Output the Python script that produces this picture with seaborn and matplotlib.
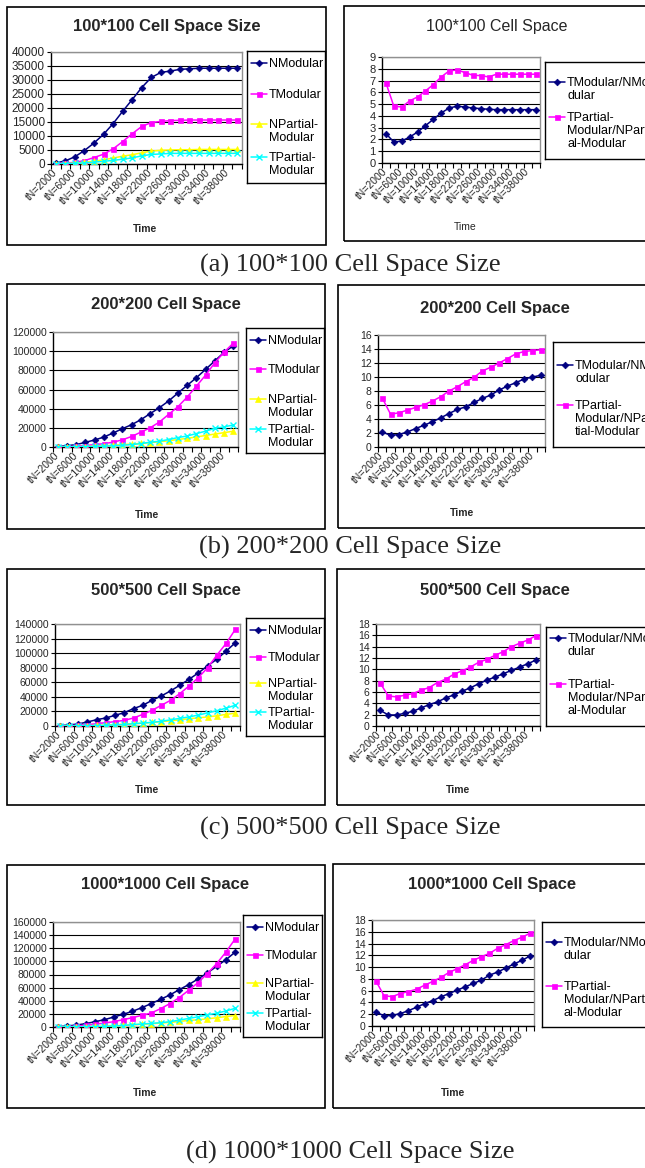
import numpy as np
import pandas as pd
import matplotlib
matplotlib.use("Agg")
import matplotlib.pyplot as plt
import seaborn as sns
from matplotlib.patches import Rectangle
from matplotlib.ticker import StrMethodFormatter

# ---------------- data ----------------
times = [2000, 4000, 6000, 8000, 10000, 12000, 14000, 16000, 18000, 20000,
         22000, 24000, 26000, 28000, 30000, 32000, 34000, 36000, 38000, 40000]
categories = ["tN=" + str(t) for t in times]
tick_labels = categories[::2]

# (a) 100*100
a_nmodular = [400, 1100, 2600, 4800, 7500, 10600, 14400, 18800, 23000, 27300,
              30900, 32700, 33200, 33800, 34000, 34200, 34200, 34200, 34200, 34200]
a_tmodular = [150, 300, 600, 1200, 2300, 3500, 5400, 8000, 10800, 13400,
              14800, 15200, 15500, 15600, 15700, 15700, 15700, 15700, 15700, 15700]
a_npartial = [60, 150, 320, 600, 1000, 1500, 2100, 2800, 3300, 4000,
              4600, 4900, 5000, 5100, 5100, 5200, 5200, 5200, 5200, 5200]
a_tpartial = [40, 120, 250, 400, 650, 950, 1300, 1700, 2200, 2900,
              3400, 3600, 3800, 3800, 3800, 3800, 3800, 3800, 3800, 3800]
a_ratio_mod = [2.49, 1.78, 1.87, 2.2, 2.63, 3.17, 3.71, 4.25, 4.67, 4.82,
               4.76, 4.67, 4.62, 4.56, 4.53, 4.53, 4.53, 4.53, 4.53, 4.53]
a_ratio_part = [6.8, 4.82, 4.76, 5.27, 5.61, 6.12, 6.66, 7.31, 7.82, 7.9,
                7.68, 7.45, 7.42, 7.31, 7.54, 7.54, 7.54, 7.54, 7.54, 7.54]

# (b) 200*200
b_nmodular = [300, 1400, 2400, 4900, 7300, 10400, 14600, 19100, 23300, 28500,
              34800, 41000, 48000, 56300, 64300, 72300, 81000, 90000, 98800, 105700]
b_tmodular = [150, 400, 800, 1500, 2500, 3500, 5000, 7500, 11000, 15500,
              20000, 26000, 34000, 42000, 52000, 63500, 75000, 88000, 99000, 108500]
b_npartial = [60, 150, 300, 500, 800, 1200, 1800, 2500, 3000, 3800,
              4500, 5500, 6500, 7800, 9000, 10500, 12000, 13500, 15000, 16500]
b_tpartial = [40, 100, 200, 400, 600, 900, 1300, 1800, 2500, 3500,
              5000, 6000, 7800, 9800, 11500, 14000, 16500, 19500, 21000, 23000]
b_ratio_mod = [2.15, 1.67, 1.77, 2.15, 2.63, 3.1, 3.6, 4.16, 4.78, 5.36,
               5.74, 6.36, 6.94, 7.42, 8.13, 8.7, 9.19, 9.71, 10.0, 10.24]
b_ratio_part = [7.03, 4.69, 4.88, 5.26, 5.65, 6.03, 6.55, 7.18, 7.99, 8.61,
                9.33, 9.95, 10.86, 11.39, 12.0, 12.63, 13.3, 13.64, 13.78, 13.88]

# (c) 500*500
c_nmodular = [460, 1400, 2800, 5500, 8700, 11000, 14700, 18400, 23900, 28500,
              35300, 41300, 48200, 56000, 64200, 72900, 82600, 91700, 102800, 114300]
c_tmodular = [100, 500, 900, 1800, 3200, 4600, 6000, 7800, 11000, 16000,
              21600, 28400, 35300, 44500, 55000, 66500, 79900, 97300, 113400, 132700]
c_npartial = [60, 150, 300, 500, 800, 1200, 1800, 2500, 3200, 4000,
              5000, 6000, 7200, 8500, 10000, 11200, 12500, 14000, 16000, 17500]
c_tpartial = [40, 100, 200, 400, 600, 900, 1500, 2200, 3000, 4000,
              5000, 6500, 8500, 10500, 12500, 15000, 18000, 21000, 24500, 28500]
c_ratio_mod = [2.77, 1.95, 1.95, 2.24, 2.6, 3.19, 3.78, 4.25, 4.96, 5.49,
               6.14, 6.73, 7.44, 8.09, 8.62, 9.21, 9.8, 10.39, 10.98, 11.63]
c_ratio_part = [7.6, 5.3, 5.14, 5.43, 5.73, 6.32, 6.79, 7.67, 8.26, 9.15,
                9.74, 10.39, 11.22, 11.75, 12.46, 13.1, 13.99, 14.58, 15.17, 15.94]

# (d) 1000*1000
d_nmodular = [500, 1500, 3000, 5100, 8100, 11200, 15200, 19300, 23900, 29500,
              35600, 42200, 48800, 56900, 64500, 73100, 82300, 92400, 102600, 114300]
d_tmodular = [100, 500, 1500, 2500, 4100, 6100, 8100, 11200, 14200, 17800,
              21300, 27900, 35600, 44700, 55900, 67600, 81300, 96500, 114300, 134600]
d_npartial = [60, 150, 300, 500, 800, 1200, 1800, 2500, 3300, 4200,
              5000, 6000, 7000, 8500, 10000, 11000, 12500, 14000, 16000, 17500]
d_tpartial = [40, 100, 200, 400, 600, 900, 1500, 2200, 3500, 4500,
              5500, 6500, 8000, 10500, 13000, 15500, 18500, 21000, 24500, 28500]
d_ratio_mod = [2.39, 1.7, 1.82, 2.1, 2.61, 3.18, 3.81, 4.32, 4.94, 5.51,
               6.08, 6.65, 7.22, 7.78, 8.64, 9.15, 9.83, 10.51, 11.14, 11.88]
d_ratio_part = [7.61, 5.11, 5.0, 5.51, 5.85, 6.25, 6.93, 7.56, 8.24, 9.09,
                9.72, 10.4, 11.14, 11.76, 12.33, 13.18, 13.81, 14.49, 15.06, 15.74]

captions = ["(a) 100*100 Cell Space Size", "(b) 200*200 Cell Space Size",
            "(c) 500*500 Cell Space Size", "(d) 1000*1000 Cell Space Size"]

# ---------------- style ----------------
sns.set_theme(style="white")
plt.rcParams['font.family'] = ['Liberation Sans', 'DejaVu Sans']

W, H = 645, 1168
fig = plt.figure(figsize=(W / 100, H / 100), dpi=100)
fig.patch.set_facecolor('white')


def frect(x0, y0, x1, y1):
    return [x0 / W, 1 - y1 / H, (x1 - x0) / W, (y1 - y0) / H]


NAVY, MAGENTA, YELLOW, CYAN = '#000080', '#FF00FF', '#FFFF00', '#00FFFF'
STY = {
    'NModular': (NAVY, 'D', 3.4),
    'TModular': (MAGENTA, 's', 3.6),
    'NPartial': (YELLOW, '^', 4.2),
    'TPartial': (CYAN, 'x', 4.2),
}


def panel_box(box):
    x0, y0, x1, y1 = box
    fig.add_artist(Rectangle((x0 / W, 1 - y1 / H), (x1 - x0) / W, (y1 - y0) / H,
                             transform=fig.transFigure, fill=False,
                             ec='black', lw=1.2, zorder=0))


def draw_chart(plot, series, ymax, ystep, ytick_fs, xtick_fs):
    ax = fig.add_axes(frect(*plot))
    pos = np.arange(len(categories))
    df = pd.DataFrame({"pos": pos, "Time": categories})
    for key, vals in series:
        color, marker, ms = STY[key]
        df[key] = vals
        sns.lineplot(data=df, x="pos", y=key, ax=ax, color=color, marker=marker,
                     markersize=ms, markeredgecolor=color,
                     markeredgewidth=1.0 if marker == 'x' else 0.5,
                     linewidth=1.1, legend=False, zorder=3)
    ax.set_xlim(-0.5, len(categories) - 0.5)
    ax.set_ylim(0, ymax)
    ax.set_yticks(np.arange(0, ymax + ystep / 2, ystep))
    ax.yaxis.set_major_formatter(StrMethodFormatter('{x:.0f}'))
    ax.set_xticks(pos[::2])
    ax.set_xticklabels(tick_labels, rotation=45, ha='right', va='center',
                       rotation_mode='anchor', fontsize=xtick_fs)
    ax.set_xticks(np.arange(-0.5, len(categories), 1), minor=True)
    ax.tick_params(axis='x', which='major', length=0, pad=5, bottom=True)
    ax.tick_params(axis='x', which='minor', length=3.5, width=0.8,
                   direction='out', bottom=True, color='black')
    ax.tick_params(axis='y', which='major', length=3, width=0.8, direction='out',
                   left=True, color='black', labelsize=ytick_fs, pad=1.5)
    ax.grid(axis='y', color='black', lw=0.8)
    ax.grid(axis='x', visible=False)
    ax.set_axisbelow(True)
    for side in ['left', 'bottom']:
        ax.spines[side].set_color('black')
        ax.spines[side].set_linewidth(1.0)
    for side in ['top', 'right']:
        ax.spines[side].set_color('#909090')
        ax.spines[side].set_linewidth(1.0)
    ax.set_xlabel('')
    ax.set_ylabel('')
    ax.set_facecolor('white')
    return ax


def draw_legend(box, entries, offsets, fs):
    x0, y0, x1, y1 = box
    lax = fig.add_axes(frect(x0, y0, x1, y1))
    lax.set_xlim(0, x1 - x0)
    lax.set_ylim(y1 - y0, 0)
    lax.set_xticks([])
    lax.set_yticks([])
    for s in lax.spines.values():
        s.set_color('black')
        s.set_linewidth(1.0)
    lax.set_facecolor('white')
    fs_px = fs * 100 / 72
    for (key, label), off in zip(entries, offsets):
        color, marker, ms = STY[key]
        lax.plot([4, 20], [off, off], color=color, lw=1.1)
        lax.plot([12], [off], marker=marker, ms=ms, color=color, mec=color,
                 mew=1.0 if marker == 'x' else 0.5)
        lax.text(22, off - 0.42 * fs_px, label, fontsize=fs, va='top', ha='left',
                 linespacing=1.15, color='black')


def text_px(x, y, s, **kw):
    fig.text(x / W, 1 - y / H, s, ha='center', va='center', **kw)


panels = [
    # left (a)
    dict(box=(7, 7, 326, 245), plot=(51, 52, 242, 164),
         title="100*100 Cell Space Size", tpos=(167, 27), tw='bold', tfs=12,
         series=[('NModular', a_nmodular), ('TModular', a_tmodular),
                 ('NPartial', a_npartial), ('TPartial', a_tpartial)],
         ymax=40000, ystep=5000, yfs=8.5, xfs=7.5,
         leg=(247, 51, 325, 183), offs=[12, 43, 73, 106],
         labels=['NModular', 'TModular', 'NPartial-\nModular', 'TPartial-\nModular'],
         time=(145, 229), timew='bold'),
    # right (a)
    dict(box=(344, 6, 660, 241), plot=(382, 57, 540, 163),
         title="100*100 Cell Space", tpos=(497, 27), tw='normal', tfs=11.5,
         series=[('NModular', a_ratio_mod), ('TModular', a_ratio_part)],
         ymax=9, ystep=1, yfs=8, xfs=7.5,
         leg=(545, 62, 660, 159), offs=[20, 55],
         labels=['TModular/NMo\ndular', 'TPartial-\nModular/NParti\nal-Modular'],
         time=(465, 227), timew='normal'),
    # left (b)
    dict(box=(7, 284, 325, 529), plot=(53, 332, 238, 447),
         title="200*200 Cell Space", tpos=(166, 305), tw='bold', tfs=12,
         series=[('NModular', b_nmodular), ('TModular', b_tmodular),
                 ('NPartial', b_npartial), ('TPartial', b_tpartial)],
         ymax=120000, ystep=20000, yfs=7.5, xfs=7.5,
         leg=(246, 328, 324, 453), offs=[12, 41, 71, 101],
         labels=['NModular', 'TModular', 'NPartial-\nModular', 'TPartial-\nModular'],
         time=(147, 515), timew='bold'),
    # right (b)
    dict(box=(338, 285, 660, 528), plot=(378, 335, 545, 447),
         title="200*200 Cell Space", tpos=(495, 308), tw='bold', tfs=12,
         series=[('NModular', b_ratio_mod), ('TModular', b_ratio_part)],
         ymax=16, ystep=2, yfs=7.5, xfs=7.5,
         leg=(553, 342, 660, 447), offs=[23, 63],
         labels=['TModular/NM\nodular', 'TPartial-\nModular/NPar\ntial-Modular'],
         time=(462, 513), timew='bold'),
    # left (c)
    dict(box=(7, 569, 325, 805), plot=(55, 624, 240, 726),
         title="500*500 Cell Space", tpos=(166, 590), tw='bold', tfs=12,
         series=[('NModular', c_nmodular), ('TModular', c_tmodular),
                 ('NPartial', c_npartial), ('TPartial', c_tpartial)],
         ymax=140000, ystep=20000, yfs=7.5, xfs=7.5,
         leg=(246, 618, 324, 736), offs=[12, 39, 65, 94],
         labels=['NModular', 'TModular', 'NPartial-\nModular', 'TPartial-\nModular'],
         time=(147, 790), timew='bold'),
    # right (c)
    dict(box=(337, 569, 660, 805), plot=(376, 624, 540, 726),
         title="500*500 Cell Space", tpos=(495, 590), tw='bold', tfs=12,
         series=[('NModular', c_ratio_mod), ('TModular', c_ratio_part)],
         ymax=18, ystep=2, yfs=7.5, xfs=7.5,
         leg=(546, 627, 660, 726), offs=[11, 57],
         labels=['TModular/NMo\ndular', 'TPartial-\nModular/NParti\nal-Modular'],
         time=(458, 790), timew='bold'),
    # left (d)
    dict(box=(7, 865, 325, 1108), plot=(53, 922, 240, 1027),
         title="1000*1000 Cell Space", tpos=(165, 885), tw='bold', tfs=12,
         series=[('NModular', d_nmodular), ('TModular', d_tmodular),
                 ('NPartial', d_npartial), ('TPartial', d_tpartial)],
         ymax=160000, ystep=20000, yfs=7.5, xfs=7.5,
         leg=(243, 915, 322, 1037), offs=[12, 40, 68, 98],
         labels=['NModular', 'TModular', 'NPartial-\nModular', 'TPartial-\nModular'],
         time=(145, 1093), timew='bold'),
    # right (d)
    dict(box=(333, 864, 660, 1108), plot=(372, 920, 534, 1026),
         title="1000*1000 Cell Space", tpos=(492, 885), tw='bold', tfs=12,
         series=[('NModular', d_ratio_mod), ('TModular', d_ratio_part)],
         ymax=18, ystep=2, yfs=7.5, xfs=7.5,
         leg=(542, 922, 660, 1027), offs=[20, 64],
         labels=['TModular/NMo\ndular', 'TPartial-\nModular/NParti\nal-Modular'],
         time=(453, 1093), timew='bold'),
]

for p in panels:
    panel_box(p['box'])
    draw_chart(p['plot'], p['series'], p['ymax'], p['ystep'], p['yfs'], p['xfs'])
    keys = [k for k, _ in p['series']]
    draw_legend(p['leg'], list(zip(keys, p['labels'])), p['offs'], 9)
    text_px(*p['tpos'], p['title'], fontsize=p['tfs'], fontweight=p['tw'])
    text_px(*p['time'], "Time", fontsize=7.5, fontweight=p['timew'])

cap_y = [265, 547, 828, 1152]
for cap, y in zip(captions, cap_y):
    text_px(350, y, cap, fontsize=19, family=['Liberation Serif', 'DejaVu Serif'])

fig.savefig("out.png", dpi=100, facecolor='white')
